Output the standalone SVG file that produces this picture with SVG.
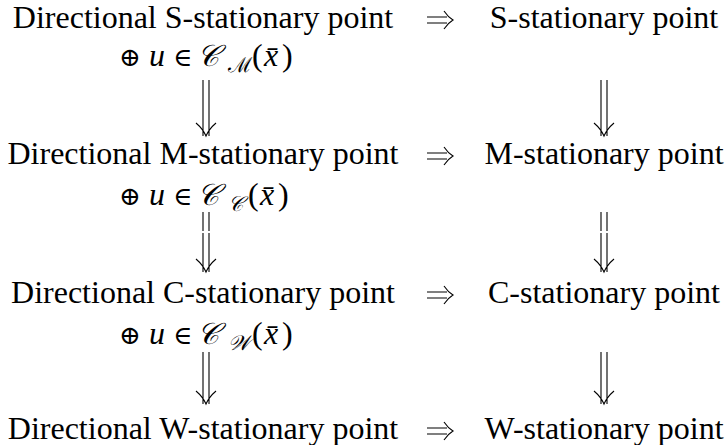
<svg xmlns="http://www.w3.org/2000/svg" width="726" height="445" viewBox="0 0 726 445">
<style>
.t{font-family:"Liberation Serif","Times New Roman",serif;font-size:32px;fill:#000}
.mi{font-family:"Liberation Serif",serif;font-style:italic;font-size:32px;fill:#000}
.sym{font-family:"DejaVu Serif","Liberation Serif",serif;font-size:26px;fill:#000}
.scr{font-family:"DejaVu Serif","Noto Sans","DejaVu Sans",serif;font-style:italic;font-size:30px;fill:#000}
.scs{font-family:"DejaVu Serif","Noto Sans","DejaVu Sans",serif;font-style:italic;font-size:21px;fill:#000}
.ar{fill:none;stroke:#000;stroke-width:1.1}
</style>
<defs>
<g id="dn">
<path class="ar" d="M-3,0V-7M3,0V-7M-10,-13Q-3,-7 0,0Q3,-7 10,-13"/>
</g>
<g id="rt">
<path class="ar" d="M0,-3H20M0,3H20M17,-9Q21,-3 26,0Q21,3 17,9"/>
</g>
</defs>
<g id="n1"><text class="t" x="203" y="28" text-anchor="middle">Directional S-stationary point</text></g>
<g id="n1c">
<text x="0" y="66"><tspan class="sym" x="119">⊕</tspan><tspan class="mi" x="149">u</tspan><tspan class="sym" x="173">∈</tspan><tspan class="scr" x="197">𝒞</tspan><tspan class="scs" x="228" dy="6">ℳ</tspan><tspan class="t" x="252" dy="-6">(</tspan><tspan class="mi" x="264">x̄</tspan><tspan class="t" x="282">)</tspan></text>
</g>
<g id="n2"><text class="t" x="604" y="28" text-anchor="middle">S-stationary point</text></g>
<g id="n3"><text class="t" x="203" y="164" text-anchor="middle">Directional M-stationary point</text></g>
<g id="n3c">
<text x="0" y="205"><tspan class="sym" x="119">⊕</tspan><tspan class="mi" x="149">u</tspan><tspan class="sym" x="173">∈</tspan><tspan class="scr" x="197">𝒞</tspan><tspan class="scs" x="228" dy="6">𝒞</tspan><tspan class="t" x="248" dy="-6">(</tspan><tspan class="mi" x="260">x̄</tspan><tspan class="t" x="278">)</tspan></text>
</g>
<g id="n4"><text class="t" x="604" y="164" text-anchor="middle">M-stationary point</text></g>
<g id="n5"><text class="t" x="203" y="303" text-anchor="middle">Directional C-stationary point</text></g>
<g id="n5c">
<text x="0" y="344"><tspan class="sym" x="119">⊕</tspan><tspan class="mi" x="149">u</tspan><tspan class="sym" x="173">∈</tspan><tspan class="scr" x="197">𝒞</tspan><tspan class="scs" x="228" dy="6">𝒲</tspan><tspan class="t" x="252" dy="-6">(</tspan><tspan class="mi" x="264">x̄</tspan><tspan class="t" x="282">)</tspan></text>
</g>
<g id="n6"><text class="t" x="604" y="303" text-anchor="middle">C-stationary point</text></g>
<g id="n7"><text class="t" x="203" y="439" text-anchor="middle">Directional W-stationary point</text></g>
<g id="n8"><text class="t" x="604" y="439" text-anchor="middle">W-stationary point</text></g>
<g id="connectors">
<use href="#rt" x="427" y="20"/>
<use href="#rt" x="427" y="156"/>
<use href="#rt" x="427" y="295"/>
<use href="#rt" x="427" y="431"/>
<path class="ar" d="M203,80V129M209,80V129"/><use href="#dn" x="206" y="136"/>
<path class="ar" d="M601,80V129M607,80V129"/><use href="#dn" x="604" y="136"/>
<path class="ar" d="M203,212V231M209,212V231M203,233V265M209,233V265"/><use href="#dn" x="206" y="272"/>
<path class="ar" d="M601,212V231M607,212V231M601,233V265M607,233V265"/><use href="#dn" x="604" y="272"/>
<path class="ar" d="M203,352V397M209,352V397"/><use href="#dn" x="206" y="404"/>
<path class="ar" d="M601,352V397M607,352V397"/><use href="#dn" x="604" y="404"/>
</g>
</svg>
